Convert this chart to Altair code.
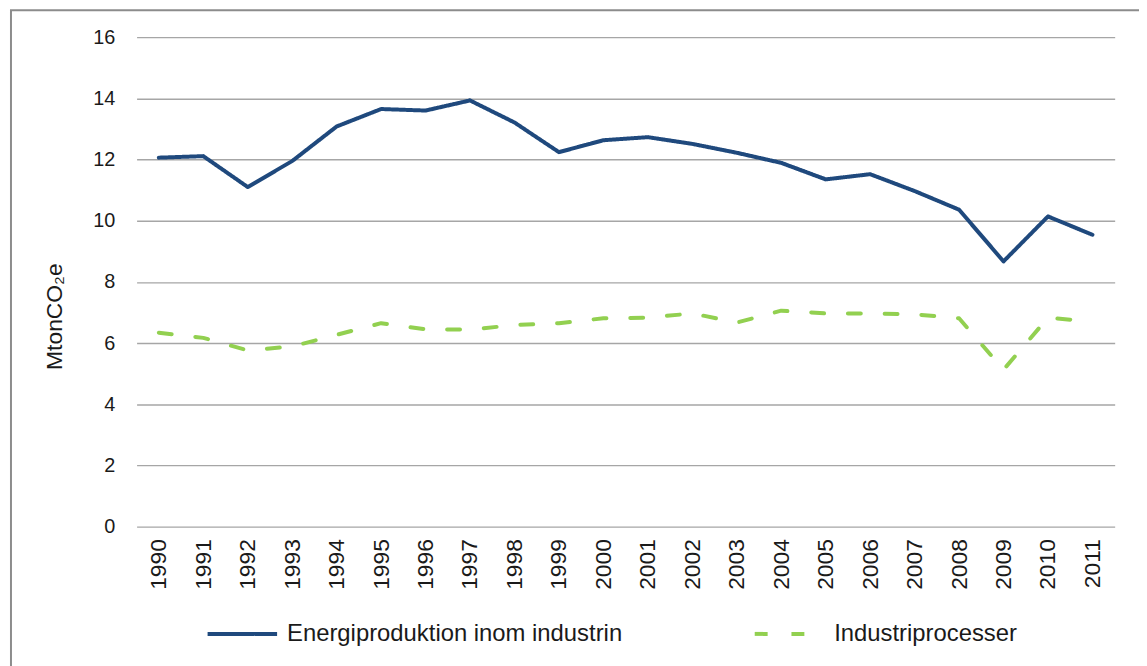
import altair as alt
import pandas as pd

years = [str(y) for y in range(1990, 2012)]
energi = [12.06, 12.11, 11.10, 11.95, 13.08, 13.65, 13.60, 13.93, 13.21, 12.24, 12.63,
          12.73, 12.51, 12.22, 11.89, 11.35, 11.52, 10.97, 10.36, 8.67, 10.14, 9.54]
process = [6.34, 6.17, 5.76, 5.89, 6.27, 6.65, 6.45, 6.44, 6.59, 6.65, 6.81,
           6.83, 6.97, 6.67, 7.06, 6.97, 6.97, 6.94, 6.81, 5.13, 6.83, 6.70]
series_names = ["Energiproduktion inom industrin", "Industriprocesser"]
y_ticks = [0, 2, 4, 6, 8, 10, 12, 14, 16]

rows = []
for name, vals in zip(series_names, [energi, process]):
    for yr, v in zip(years, vals):
        rows.append({"year": yr, "value": v, "series": name})
df = pd.DataFrame(rows)

FONT = "Liberation Sans"

legend = alt.Legend(
    title=None, orient="none", direction="horizontal", columns=2,
    legendX=69.5, legendY=564, symbolType="stroke", symbolSize=4900,
    symbolStrokeWidth=4, labelFont=FONT, labelFontSize=24, labelColor="#1a1a1a",
    labelOffset=8, columnPadding=125, padding=0, labelLimit=600,
)

lines = alt.Chart(df).mark_line(strokeWidth=4, strokeCap="round", strokeJoin="round").encode(
    x=alt.X("year:O", title=None, sort=years,
            axis=alt.Axis(labelAngle=270, labelAlign="right", labelBaseline="middle",
                          labelPadding=12, labelFont=FONT, labelFontSize=23,
                          labelColor="#1a1a1a", domain=False, ticks=False, grid=False)),
    y=alt.Y("value:Q", title="MtonCO₂e", scale=alt.Scale(domain=[0, 16], nice=False),
            axis=alt.Axis(values=y_ticks, domain=False, ticks=False, grid=True,
                          gridColor="#a6a6a6", gridWidth=1.4, labelPadding=22,
                          labelFont=FONT, labelFontSize=20, labelColor="#1a1a1a",
                          titleFont=FONT, titleFontSize=23, titleFontWeight="normal",
                          titleColor="#1a1a1a", titleAngle=270, titleAlign="center",
                          titleBaseline="middle", titleX=-83, titleY=281)),
    color=alt.Color("series:N", sort=series_names,
                    scale=alt.Scale(domain=series_names, range=["#1F497D", "#92D050"]),
                    legend=legend),
    strokeDash=alt.StrokeDash("series:N", sort=series_names,
                              scale=alt.Scale(domain=series_names, range=[[1, 0], [13, 24]]),
                              legend=legend),
)

border = alt.Chart(pd.DataFrame({"a": [0]})).mark_rect(
    fill="transparent", stroke="#8c8c8c", strokeWidth=2
).encode(x=alt.value(-126.5), x2=alt.value(1100), y=alt.value(-27), y2=alt.value(700))

chart = alt.layer(border, lines).properties(
    width=985, height=493,
    autosize=alt.AutoSizeParams(type="none"),
    padding={"left": 129.5, "top": 27, "right": 24.5, "bottom": 138},
).configure_view(stroke=None)

chart.save("out.html", embed_options={"renderer": "svg", "actions": False})
